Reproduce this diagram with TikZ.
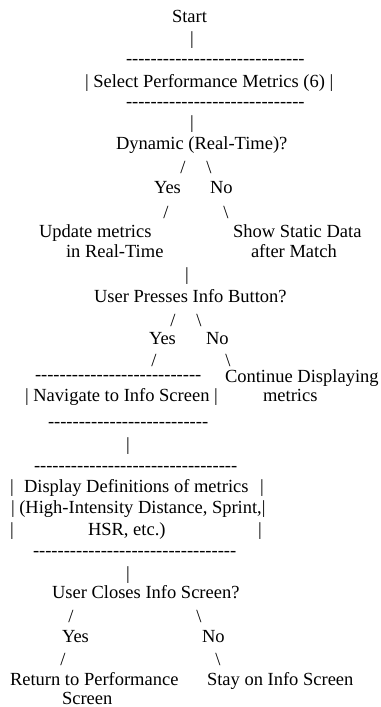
\documentclass[tikz,border=0pt]{standalone}
\usepackage{fontspec}
\setmainfont{Liberation Serif}
% a row of n plain hyphens (braced so they never join into dashes)
\ExplSyntaxOn
\NewDocumentCommand\hyrow{m}{\prg_replicate:nn{#1}{{-}}}
\ExplSyntaxOff
\tikzset{
  txt/.style={anchor=base west, inner sep=0pt, outer sep=0pt,
              font=\fontsize{18.5bp}{21bp}\selectfont},
  glyph/.style={anchor=base, inner sep=0pt, outer sep=0pt,
              font=\fontsize{18.5bp}{21bp}\selectfont},
}
\begin{document}
\begin{tikzpicture}[x=1bp,y=-1bp]
\useasboundingbox (0,0) rectangle (380,707);
% start and first box
\node[txt]   (start) at (172,23)  {Start};
\node[glyph] (b1)    at (192,45)  {|};
\node[txt]   (d1)    at (126,65)  {\hyrow{29}};
\node[txt]   (sel)   at (85,88)   {| Select Performance Metrics (6) |};
\node[txt]   (d2)    at (126,108) {\hyrow{29}};
\node[glyph] (b2)    at (192,129) {|};
% first decision
\node[txt]   (dyn)   at (116,149) {Dynamic (Real-Time)?};
\node[glyph] (s1)    at (183,173) {/};
\node[glyph] (s2)    at (209,173) {\textbackslash};
\node[txt]   (yes1)  at (154,193) {Yes};
\node[txt]   (no1)   at (210,193) {No};
\node[glyph] (s3)    at (166,218) {/};
\node[glyph] (s4)    at (226,218) {\textbackslash};
\node[txt]   (upd1)  at (39,237)  {Update metrics};
\node[txt]   (upd2)  at (66,257)  {in Real-Time};
\node[txt]   (shw1)  at (233,237) {Show Static Data};
\node[txt]   (shw2)  at (251,257) {after Match};
\node[glyph] (b3)    at (187,280) {|};
% second decision
\node[txt]   (press) at (94,302)  {User Presses Info Button?};
\node[glyph] (s5)    at (173,326) {/};
\node[glyph] (s6)    at (199,326) {\textbackslash};
\node[txt]   (yes2)  at (149,344) {Yes};
\node[txt]   (no2)   at (206,344) {No};
\node[glyph] (s7)    at (154,366) {/};
\node[glyph] (s8)    at (228,366) {\textbackslash};
\node[txt]   (d3)    at (35,380)  {\hyrow{27}};
\node[txt]   (nav)   at (25,401)  {| Navigate to Info Screen |};
\node[txt]   (d4)    at (48,427)  {\hyrow{26}};
\node[txt]   (cnt1)  at (225,382) {Continue Displaying};
\node[txt]   (cnt2)  at (263,401) {metrics};
\node[glyph] (b4)    at (128,450) {|};
% definitions box
\node[txt]   (d5)    at (34,471)  {\hyrow{33}};
\node[glyph] (l1)    at (12,492)  {|};
\node[txt]   (def1)  at (24,492)  {Display Definitions of metrics};
\node[glyph] (r1)    at (262,492) {|};
\node[txt]   (def2)  at (11,513)  {| (High-Intensity Distance, Sprint,|};
\node[glyph] (l3)    at (12,535)  {|};
\node[txt]   (def3)  at (88,535)  {HSR, etc.)};
\node[glyph] (r3)    at (260,535) {|};
\node[txt]   (d6)    at (33,556)  {\hyrow{33}};
\node[glyph] (b5)    at (128,579) {|};
% third decision
\node[txt]   (close) at (52,598)  {User Closes Info Screen?};
\node[glyph] (s9)    at (71,622)  {/};
\node[glyph] (s10)   at (199,622) {\textbackslash};
\node[txt]   (yes3)  at (62,642)  {Yes};
\node[txt]   (no3)   at (202,642) {No};
\node[glyph] (s11)   at (63,665)  {/};
\node[glyph] (s12)   at (218,665) {\textbackslash};
\node[txt]   (ret1)  at (10,685)  {Return to Performance};
\node[txt]   (ret2)  at (62,704)  {Screen};
\node[txt]   (stay)  at (207,685) {Stay on Info Screen};
\end{tikzpicture}
\end{document}
